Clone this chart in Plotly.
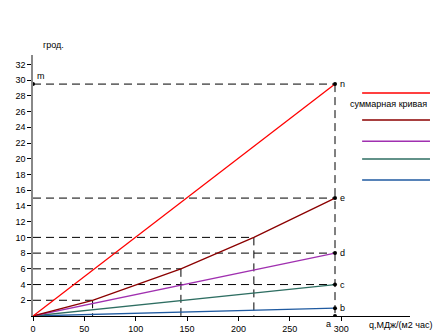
import plotly.graph_objects as go

# ---- data ----
red_x = [0, 294]
red_y = [0, 29.5]
darkred_x = [0, 58, 144, 215, 294]
darkred_y = [0, 2, 6, 10, 15]
purple_x = [0, 294]
purple_y = [0, 8]
teal_x = [0, 294]
teal_y = [0, 4]
blue_x = [0, 294]
blue_y = [0, 1]

# horizontal guide lines (y value, x end)
guide_y = [29.5, 15, 10, 8, 6, 4, 2]
guide_xend = [294, 294, 215, 294, 144, 294, 58]
# vertical guide lines (x value, y top)
vguide_x = [294, 215, 144, 58]
vguide_ytop = [29.5, 10, 6, 2]

pt_labels = ["m", "n", "e", "d", "c", "b", "a"]
pt_x = [0, 294, 294, 294, 294, 294, 294]
pt_y = [29.5, 29.5, 15, 8, 4, 1, 0]

x_ticks = [0, 50, 100, 150, 200, 250, 300]
y_ticks = list(range(2, 33, 2))

legend_colors = ["#ff0000", "#8b0000", "#a030b0", "#2e6e62", "#1f5aa0"]
legend_text = "суммарная кривая"

fig = go.Figure()

DASH = "8px,5px"
for gy, gx in zip(guide_y, guide_xend):
    fig.add_trace(go.Scatter(x=[0, gx], y=[gy, gy], mode="lines",
                             line=dict(color="black", width=1, dash=DASH),
                             hoverinfo="skip", showlegend=False))
for vx, vy in zip(vguide_x, vguide_ytop):
    fig.add_trace(go.Scatter(x=[vx, vx], y=[vy, 0], mode="lines",
                             line=dict(color="black", width=1, dash=DASH),
                             hoverinfo="skip", showlegend=False))

series = [
    (blue_x, blue_y, "#1f5aa0"),
    (teal_x, teal_y, "#2e6e62"),
    (purple_x, purple_y, "#a030b0"),
    (darkred_x, darkred_y, "#8b0000"),
    (red_x, red_y, "#ff0000"),
]
for sx, sy, c in series:
    fig.add_trace(go.Scatter(x=sx, y=sy, mode="lines",
                             line=dict(color=c, width=1.3),
                             showlegend=False))

fig.add_trace(go.Scatter(x=pt_x, y=pt_y, mode="markers",
                         marker=dict(color="black", size=4),
                         showlegend=False))

font = dict(family="Liberation Sans, Arial, sans-serif", size=9, color="black")

for lab, px, py in zip(pt_labels, pt_x, pt_y):
    if lab == "a":
        fig.add_annotation(x=px, y=py, text=lab, showarrow=False, font=font,
                           xanchor="right", yanchor="top", yshift=-1, xshift=-2)
    elif lab == "m":
        fig.add_annotation(x=px, y=py, text=lab, showarrow=False, font=font,
                           xanchor="left", yanchor="bottom", xshift=2, yshift=1)
    else:
        fig.add_annotation(x=px, y=py, text=lab, showarrow=False, font=font,
                           xanchor="left", yanchor="middle", xshift=3)

# legend (drawn manually)
leg_y = [0.854, 0.751, 0.670, 0.602, 0.521]
for c, ly in zip(legend_colors, leg_y):
    fig.add_shape(type="line", xref="paper", yref="paper",
                  x0=0.873, x1=1.053, y0=ly, y1=ly,
                  line=dict(color=c, width=1.5))
fig.add_annotation(xref="paper", yref="paper", x=0.835, y=0.812,
                   text=legend_text, showarrow=False, font=font,
                   xanchor="left", yanchor="middle")

fig.add_annotation(xref="paper", yref="paper", x=0.02, y=1.04,
                   text="грод.", showarrow=False, font=font,
                   xanchor="left", yanchor="middle")
fig.add_annotation(xref="paper", yref="paper", x=0.885, y=-0.034,
                   text="q,МДж/(м2 час)", showarrow=False, font=font,
                   xanchor="left", yanchor="middle")

fig.update_xaxes(range=[0, 367], tickvals=x_ticks,
                 ticks="outside", ticklen=4, automargin=False,
                 showgrid=False, zeroline=False, showline=True,
                 linecolor="black", linewidth=1, tickfont=font,
                 tickcolor="black")
fig.update_yaxes(range=[0, 33.2], tickvals=y_ticks, ticks="outside", ticklen=4,
                 automargin=False,
                 showgrid=False, zeroline=False, showline=True,
                 linecolor="#888888", linewidth=1.5, tickfont=font,
                 tickcolor="black")

fig.update_layout(width=442, height=334,
                  margin=dict(l=33, r=32, t=55, b=18, pad=0),
                  plot_bgcolor="white", paper_bgcolor="white",
                  showlegend=False)

fig.write_html("out.html")
